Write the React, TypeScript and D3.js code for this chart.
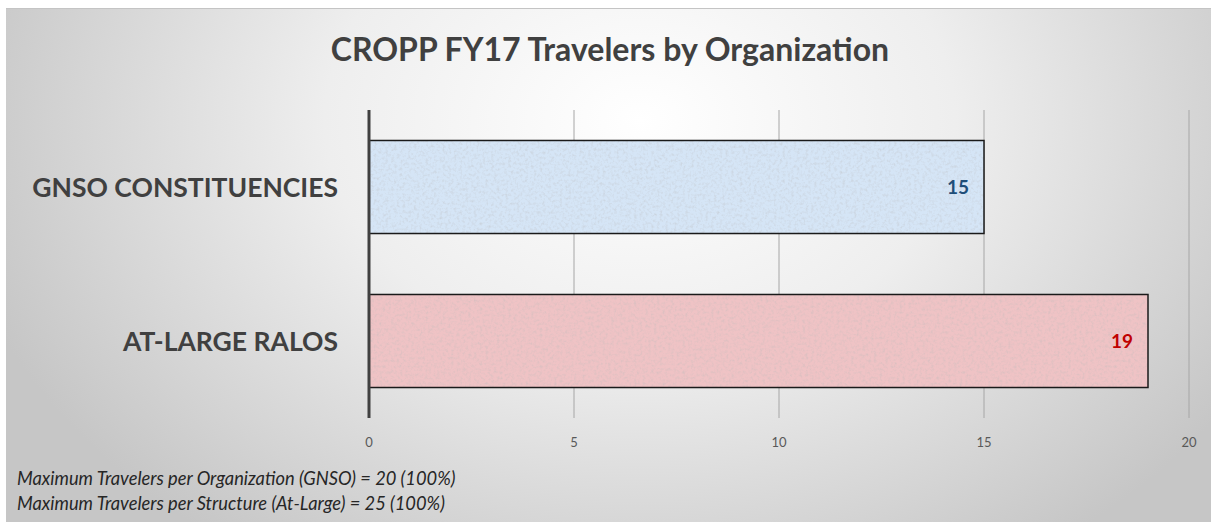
import React, { useEffect, useRef } from 'react';
import * as d3 from 'd3';

const WIDTH = 1211;
const HEIGHT = 522;

const TITLE = 'CROPP FY17 Travelers by Organization';
const categories = ['GNSO CONSTITUENCIES', 'AT-LARGE RALOS'];
const values = [15, 19];
const ticks = [0, 5, 10, 15, 20];
const barFills = ['#d5e5f6', '#efc3c5'];
const labelColors = ['#1f4e79', '#c00000'];
const notes = [
  'Maximum Travelers per Organization (GNSO) = 20 (100%)',
  'Maximum Travelers per Structure (At-Large) = 25 (100%)',
];

const FONT = 'Lato, "Open Sans", sans-serif';

const App: React.FC = () => {
  const ref = useRef<SVGSVGElement>(null);

  useEffect(() => {
    const svg = d3.select(ref.current);
    svg.selectAll('*').remove();

    const x = d3.scaleLinear().domain([0, 20]).range([369, 1189]);
    const y = d3
      .scaleBand<string>()
      .domain(categories)
      .range([110, 418])
      .paddingInner(0.396)
      .paddingOuter(0.198);

    const defs = svg.append('defs');

    // background: light centre fading to grey at the sides
    const bg = defs
      .append('radialGradient')
      .attr('id', 'bg')
      .attr('gradientUnits', 'userSpaceOnUse')
      .attr('cx', 640)
      .attr('cy', 120)
      .attr('r', 700)
      .attr('gradientTransform', 'translate(640,120) scale(1,0.75) translate(-640,-120)');
    bg.append('stop').attr('offset', 0).attr('stop-color', '#ffffff');
    bg.append('stop').attr('offset', 0.45).attr('stop-color', '#eeeeee');
    bg.append('stop').attr('offset', 1).attr('stop-color', '#c6c6c6');

    // paper-like texture for the bars
    const tex = defs.append('filter').attr('id', 'tex').attr('x', 0).attr('y', 0).attr('width', 1).attr('height', 1);
    tex
      .append('feTurbulence')
      .attr('type', 'fractalNoise')
      .attr('baseFrequency', 0.35)
      .attr('numOctaves', 3)
      .attr('seed', 4)
      .attr('result', 'noise');
    tex
      .append('feColorMatrix')
      .attr('in', 'noise')
      .attr('type', 'matrix')
      .attr('values', '0 0 0 0 0.5  0 0 0 0 0.5  0 0 0 0 0.5  0 0 0 -0.9 0.5')
      .attr('result', 'grain');
    tex
      .append('feComposite')
      .attr('in', 'grain')
      .attr('in2', 'SourceGraphic')
      .attr('operator', 'in')
      .attr('result', 'g2');
    const merge = tex.append('feMerge');
    merge.append('feMergeNode').attr('in', 'SourceGraphic');
    merge.append('feMergeNode').attr('in', 'g2');

    svg.append('rect').attr('width', WIDTH).attr('height', HEIGHT).attr('fill', '#ffffff');
    svg
      .append('rect')
      .attr('x', 6)
      .attr('y', 8)
      .attr('width', WIDTH - 6)
      .attr('height', HEIGHT - 8)
      .attr('fill', 'url(#bg)');
    svg
      .append('line')
      .attr('x1', 6)
      .attr('x2', WIDTH)
      .attr('y1', 8.5)
      .attr('y2', 8.5)
      .attr('stroke', '#c4c4c4');

    // title
    svg
      .append('text')
      .attr('x', 610)
      .attr('y', 61)
      .attr('text-anchor', 'middle')
      .attr('font-family', FONT)
      .attr('font-weight', 'bold')
      .attr('font-size', 32)
      .attr('fill', '#404040')
      .text(TITLE);

    // gridlines
    svg
      .append('g')
      .selectAll('line')
      .data(ticks.slice(1))
      .join('line')
      .attr('x1', (d) => x(d))
      .attr('x2', (d) => x(d))
      .attr('y1', 110)
      .attr('y2', 418)
      .attr('stroke', '#a6a6a6')
      .attr('stroke-width', 1);

    // bars
    svg
      .append('g')
      .selectAll('rect')
      .data(values)
      .join('rect')
      .attr('x', x(0))
      .attr('y', (_, i) => y(categories[i])!)
      .attr('width', (d) => x(d) - x(0))
      .attr('height', y.bandwidth())
      .attr('fill', (_, i) => barFills[i])
      .attr('filter', 'url(#tex)');
    svg
      .append('g')
      .selectAll('rect')
      .data(values)
      .join('rect')
      .attr('x', x(0))
      .attr('y', (_, i) => y(categories[i])!)
      .attr('width', (d) => x(d) - x(0))
      .attr('height', y.bandwidth())
      .attr('fill', 'none')
      .attr('stroke', '#1a1a1a')
      .attr('stroke-width', 1.5);

    // value labels
    svg
      .append('g')
      .selectAll('text')
      .data(values)
      .join('text')
      .attr('x', (d) => x(d) - 15)
      .attr('y', (_, i) => y(categories[i])! + y.bandwidth() / 2 + 7)
      .attr('text-anchor', 'end')
      .attr('font-family', FONT)
      .attr('font-weight', 'bold')
      .attr('font-size', 19)
      .attr('fill', (_, i) => labelColors[i])
      .text((d) => d);

    // category axis line
    svg
      .append('line')
      .attr('x1', x(0))
      .attr('x2', x(0))
      .attr('y1', 110)
      .attr('y2', 418)
      .attr('stroke', '#404040')
      .attr('stroke-width', 3);

    // category labels
    svg
      .append('g')
      .selectAll('text')
      .data(categories)
      .join('text')
      .attr('x', 338)
      .attr('y', (d) => y(d)! + y.bandwidth() / 2 + 10)
      .attr('text-anchor', 'end')
      .attr('font-family', FONT)
      .attr('font-weight', 'bold')
      .attr('font-size', 26.5)
      .attr('fill', '#404040')
      .text((d) => d);

    // tick labels
    svg
      .append('g')
      .selectAll('text')
      .data(ticks)
      .join('text')
      .attr('x', (d) => x(d))
      .attr('y', 447)
      .attr('text-anchor', 'middle')
      .attr('font-family', FONT)
      .attr('font-size', 13)
      .attr('fill', '#595959')
      .text((d) => d);

    // notes
    svg
      .append('g')
      .selectAll('text')
      .data(notes)
      .join('text')
      .attr('x', 17)
      .attr('y', (_, i) => 485 + i * 25)
      .attr('font-family', FONT)
      .attr('font-style', 'italic')
      .attr('font-size', 18.3)
      .attr('fill', '#262626')
      .text((d) => d);
  }, []);

  return (
    <svg
      ref={ref}
      width={WIDTH}
      height={HEIGHT}
      style={{ position: 'absolute', left: 0, top: 0, display: 'block' }}
    />
  );
};

export default App;
